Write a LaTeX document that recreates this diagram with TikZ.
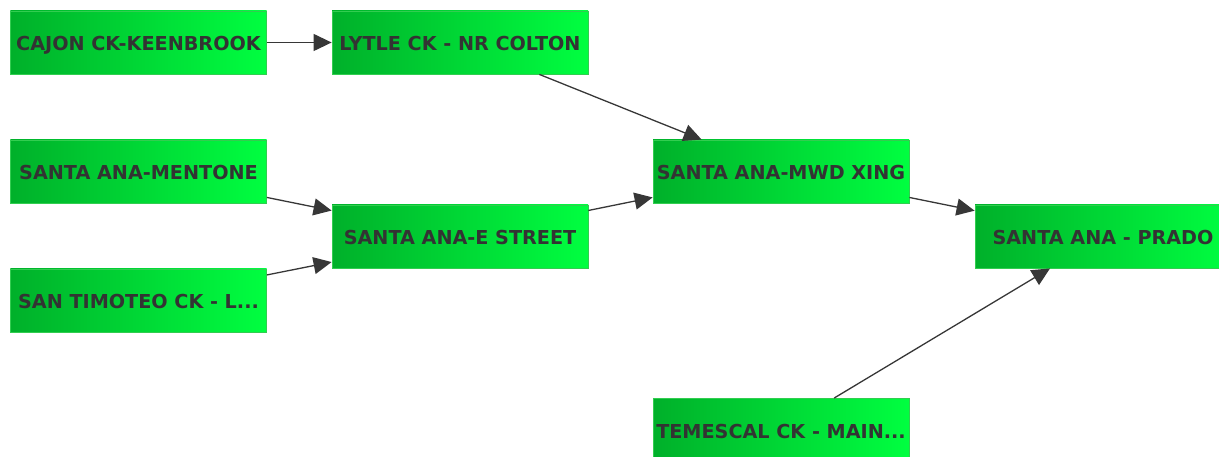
\documentclass[tikz,border=0pt]{standalone}
\usepackage{fontspec}
\setmainfont{DejaVu Sans}
\usetikzlibrary{arrows.meta}
\definecolor{gleft}{RGB}{0,176,42}
\definecolor{gright}{RGB}{0,255,64}
\definecolor{gborder}{RGB}{50,205,80}
\definecolor{txt}{RGB}{51,51,51}
\definecolor{edgec}{RGB}{55,55,55}
\tikzset{
  station/.style={rectangle, left color=gleft, right color=gright, draw=gborder, line width=0.8bp,
    minimum width=256bp, minimum height=63bp, inner sep=0pt, text=txt,
    text height=17bp, text depth=0bp,
    font=\fontsize{19.2bp}{23bp}\selectfont\bfseries},
  flow/.style={draw=edgec, line width=1.3bp, -{Triangle[length=18bp,width=17bp]}}
}
\begin{document}
\begin{tikzpicture}[x=1bp,y=-1bp]
\useasboundingbox (0,0) rectangle (1219,457);
\clip (0,0) rectangle (1219,457);
\node[station] (cajon) at (138.5,42.5) {CAJON CK-KEENBROOK};
\node[station] (lytle) at (460,42.5) {LYTLE CK - NR COLTON};
\node[station] (mentone) at (138.5,171.5) {SANTA ANA-MENTONE};
\node[station] (timoteo) at (138.5,300.5) {SAN TIMOTEO CK - L...};
\node[station] (estreet) at (460,236.5) {SANTA ANA-E STREET};
\node[station] (mwd) at (781,171.5) {SANTA ANA-MWD XING};
\node[station] (prado) at (1103,236.5) {SANTA ANA - PRADO};
\node[station] (temescal) at (781,430) {TEMESCAL CK - MAIN...};
\draw[flow] (cajon) -- (lytle);
\draw[flow] (lytle) -- (mwd);
\draw[flow] (mentone) -- (estreet);
\draw[flow] (timoteo) -- (estreet);
\draw[flow] (estreet) -- (mwd);
\draw[flow] (mwd) -- (prado);
\draw[flow] (temescal) -- (prado);
\end{tikzpicture}
\end{document}
